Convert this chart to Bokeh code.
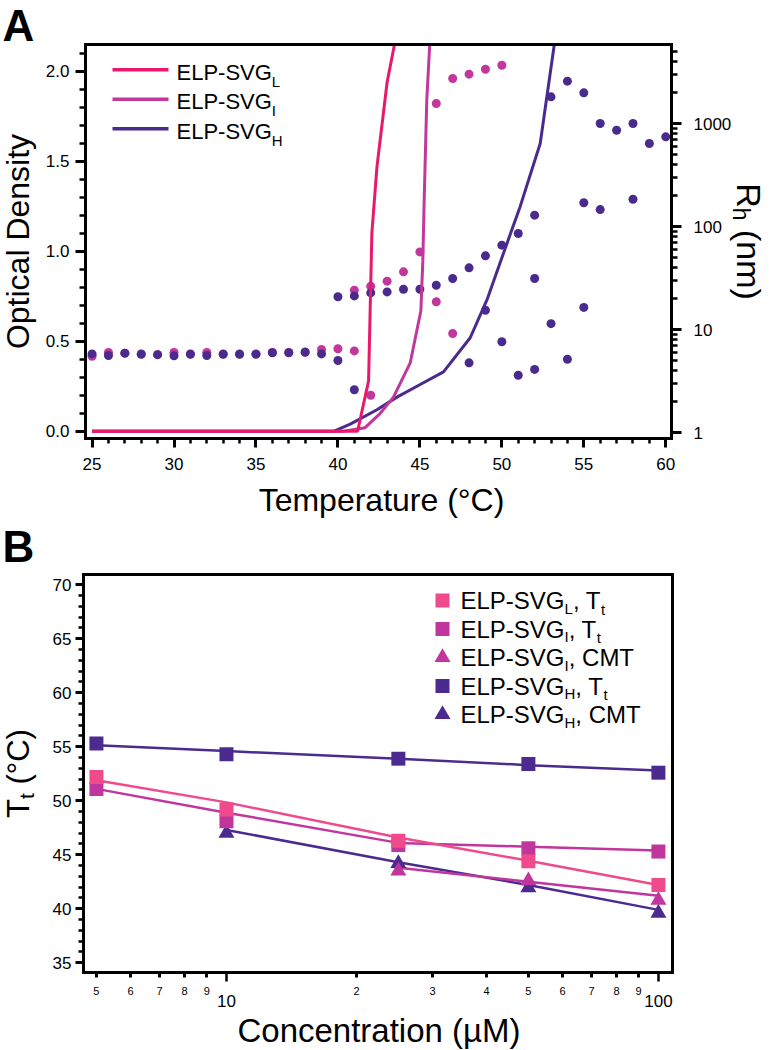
import math
from bokeh.plotting import figure
from bokeh.models import (Range1d, LinearAxis, LogAxis, FixedTicker, SingleIntervalTicker,
                          NumeralTickFormatter, CustomJSTickFormatter, Label, LogScale)
from bokeh.layouts import column
from bokeh.embed import file_html
from bokeh.resources import INLINE

FONT = "Liberation Sans"

# ---------------- Panel A data ----------------
# Optical density (turbidity) curves
od_L_T = [25, 41.2, 41.87, 42.07, 42.38, 43.0, 43.45]
od_L = [0.0, 0.0, 0.28, 1.10, 1.47, 1.94, 2.15]
od_I_T = [25, 40.34, 41.66, 42.58, 43.39, 44.41, 45.06, 45.18, 45.26, 45.42, 45.6]
od_I = [0.0, 0.0, 0.02, 0.10, 0.19, 0.38, 0.67, 0.95, 1.28, 1.84, 2.15]
od_H_T = [25, 39.73, 40.75, 42.38, 43.6, 45.02, 46.44, 48.07, 49.09, 50.1, 51.12, 52.34, 53.2]
od_H = [0.0, 0.0, 0.04, 0.12, 0.19, 0.26, 0.33, 0.52, 0.73, 0.99, 1.25, 1.60, 2.15]

# Hydrodynamic radius (DLS), nm
rh_I_T = [25, 26, 27, 28, 29, 30, 31, 32, 33, 34, 35, 36, 37, 38,
          39, 40, 41, 41, 42, 42, 43, 44, 45, 46, 46, 47, 47, 48, 49, 50]
rh_I = [5.5, 6.0, 5.9, 5.8, 5.7, 6.0, 5.8, 6.0, 5.8, 5.8, 5.8, 6.0, 6.0, 6.0,
        6.4, 6.5, 6.2, 24.1, 26.3, 2.3, 29.5, 36.3, 56.7, 18.6, 1563, 9.15, 2735, 3013, 3368, 3683]
rh_H_T = [25, 26, 27, 28, 29, 30, 31, 32, 33, 34, 35, 36, 37, 38, 39,
          40, 40, 41, 41, 42, 43, 44, 45, 46, 47, 48, 48, 49, 49, 50, 50, 51, 51,
          52, 52, 52, 53, 53, 54, 54, 55, 55, 55, 56, 56, 57, 58, 58, 59, 60]
rh_H = [5.8, 5.6, 5.9, 5.75, 5.7, 5.55, 5.75, 5.6, 5.75, 5.75, 5.75, 5.95, 5.95, 6.05, 5.8,
        5.0, 20.8, 21.2, 2.6, 22.7, 23.2, 24.6, 24.6, 26.9, 31.3, 39.7, 4.75, 51.9, 15.4, 65.9, 7.6, 85.5, 3.6,
        129, 31.3, 4.1, 1815, 11.4, 2576, 5.15, 1985, 170, 16.4, 1000, 146, 861, 1000, 184, 640, 742]

legendA_names = ["L", "I", "H"]

# ---------------- Panel B data ----------------
conc = [5, 10, 25, 50, 100]
tt_L = [52.2, 49.2, 46.3, 44.4, 42.2]
fit_L = [51.9, 49.85, 46.6, 44.45, 42.2]
tt_I = [51.1, 48.1, 45.9, 45.6, 45.3]
fit_I = [51.1, 48.9, 46.1, 45.75, 45.4]
tt_H = [55.3, 54.3, 53.9, 53.4, 52.6]
fit_H = [55.15, 54.6, 53.9, 53.3, 52.8]
cmt_conc_I = [25, 50, 100]
cmt_I = [43.5, 42.6, 40.8]
cmt_fit_I = [43.8, 42.5, 41.2]
cmt_conc_H = [10, 25, 50, 100]
cmt_H = [47.0, 44.2, 41.95, 39.6]
cmt_fit_H = [47.3, 44.3, 42.2, 39.9]

rh_major = [1, 10, 100, 1000]
rh_minor = [m * d for d in (1, 10, 100) for m in range(2, 10)] + [2000, 3000, 4000, 5000]
concB_major = [5, 6, 7, 8, 9, 20, 30, 40, 50, 60, 70, 80, 90]
concB_long = [10, 100]

# ---------------- colours ----------------
A_COL = {"L": "#E8196B", "I": "#C2379C", "H": "#4B2A8E"}
B_COL = {"L": "#EF4A8C", "I": "#C0369C", "H": "#4B2B90"}

# Arial / Liberation Sans advance widths (1/1000 em)
CW = {"E": 667, "L": 556, "P": 667, "-": 333, "S": 667, "V": 667, "G": 778, ",": 278,
      " ": 278, "T": 611, "C": 722, "M": 833, "H": 722, "I": 278, "t": 278, "h": 556,
      "R": 722, "(": 333, ")": 333, "n": 556, "m": 833, "°": 400}


def tw(s, size):
    return sum(CW[c] for c in s) / 1000.0 * size


def lab(p, x, y, text, size, color="black", angle=0.0, align="left", bold=False):
    # (x, y) is the vertical middle of the text line
    p.add_layout(Label(x=x, y=y, text=text, text_font=FONT, text_font_size=f"{size}px",
                       text_color=color, angle=angle, text_align=align,
                       text_baseline="middle",
                       text_font_style="bold" if bold else "normal"))


def style_axis(ax, tick_out, minor_out, size, standoff):
    ax.axis_line_width = 3
    ax.axis_line_color = "black"
    ax.axis_line_cap = "square"
    ax.major_tick_line_width = 3
    ax.minor_tick_line_width = 2.5
    ax.major_tick_in = 0
    ax.minor_tick_in = 0
    ax.major_tick_out = tick_out
    ax.minor_tick_out = minor_out
    ax.major_label_text_font = FONT
    ax.major_label_text_font_size = f"{size}px"
    ax.major_label_text_color = "black"
    ax.major_label_standoff = standoff


def bare_axis(ax):
    ax.axis_line_width = 3
    ax.axis_line_color = "black"
    ax.axis_line_cap = "square"
    ax.major_tick_line_color = None
    ax.minor_tick_line_color = None
    ax.major_label_text_font_size = "0px"


# ================= Panel A =================
CA_W, CA_H = 769, 520                 # canvas
A_L, A_T, A_W, A_H = 85, 44, 586, 394  # plot box inside canvas
ax0, ax1 = 24.6, 60.35
ay0, ay1 = -0.04, 2.15
rh0, rh1 = 0.875, 5850
ppx_a = A_W / (ax1 - ax0)
ppy_a = A_H / (ay1 - ay0)
ppd_a = A_H / (math.log10(rh1) - math.log10(rh0))


def axp(px):
    return ax0 + px / ppx_a


def ayp(py):
    return ay1 - py / ppy_a


pA = figure(width=CA_W, height=CA_H, output_backend="svg", toolbar_location=None,
            x_range=Range1d(axp(-A_L), axp(CA_W - A_L)),
            y_range=Range1d(ayp(CA_H - A_T), ayp(-A_T)),
            x_axis_location=None, y_axis_location=None,
            min_border=0, min_border_left=0, min_border_right=0,
            min_border_top=0, min_border_bottom=0)
pA.extra_y_ranges = {"rh": Range1d(10 ** (math.log10(rh1) - (CA_H - A_T) / ppd_a),
                                   10 ** (math.log10(rh1) + A_T / ppd_a))}
pA.extra_y_scales = {"rh": LogScale()}
pA.grid.visible = False
pA.outline_line_color = None

xa = LinearAxis(fixed_location=ay0, bounds=(ax0, ax1),
                ticker=SingleIntervalTicker(interval=5, num_minor_ticks=5))
style_axis(xa, 9, 5, 17, 10)
pA.add_layout(xa, "below")
ya = LinearAxis(fixed_location=ax0, bounds=(ay0, ay1),
                ticker=SingleIntervalTicker(interval=0.5, num_minor_ticks=5),
                formatter=NumeralTickFormatter(format="0.0"))
style_axis(ya, 10, 6, 17, 6)
pA.add_layout(ya, "left")
rax = LogAxis(y_range_name="rh", fixed_location=ax1, bounds=(rh0, rh1),
              ticker=FixedTicker(ticks=rh_major, minor_ticks=rh_minor),
              formatter=NumeralTickFormatter(format="0"))
style_axis(rax, 10, 6, 17, 12)
pA.add_layout(rax, "right")
ta = LinearAxis(fixed_location=ay1, bounds=(ax0, ax1), ticker=FixedTicker(ticks=[]))
bare_axis(ta)
pA.add_layout(ta, "above")

# DLS points
pA.scatter(rh_I_T, rh_I, y_range_name="rh", marker="circle", size=9,
           fill_color=A_COL["I"], line_color=None)
pA.scatter(rh_H_T, rh_H, y_range_name="rh", marker="circle", size=9,
           fill_color=A_COL["H"], line_color=None)
# OD curves
pA.line(od_H_T, od_H, line_color=A_COL["H"], line_width=3)
pA.line(od_I_T, od_I, line_color=A_COL["I"], line_width=3)
pA.line(od_L_T, od_L, line_color=A_COL["L"], line_width=3)

# legend A
for i, nm in enumerate(legendA_names):
    ry = 25.3 + i * 29.5
    pA.line([axp(27), axp(83)], [ayp(ry), ayp(ry)], line_color=A_COL[nm], line_width=3.5)
    lab(pA, axp(91), ayp(ry + 2.4), "ELP-SVG", 22)
    lab(pA, axp(91 + tw("ELP-SVG", 22)), ayp(ry + 11.4), nm, 15)

# titles A
lab(pA, axp(A_W / 2 + 3), ayp(A_H + 61.5), "Temperature (°C)", 32, align="center")
lab(pA, axp(-68), ayp(A_H / 2), "Optical Density", 32, angle=math.pi / 2, align="center")
fs, fsub = 34, 23
tot = tw("R", fs) + tw("h", fsub) + tw(" (nm)", fs)
py0 = A_H / 2 - tot / 2
lab(pA, axp(663), ayp(py0), "R", fs, angle=-math.pi / 2)
lab(pA, axp(655), ayp(py0 + tw("R", fs)), "h", fsub, angle=-math.pi / 2)
lab(pA, axp(663), ayp(py0 + tw("R", fs) + tw("h", fsub) + tw(" ", fs)), "(nm)", fs,
    angle=-math.pi / 2)
lab(pA, axp(-A_L + 2), ayp(25 - A_T), "A", 44, bold=True)

# ================= Panel B =================
CB_W, CB_H = 769, 530
B_L, B_T, B_W, B_H = 83, 54, 589, 398
bx0, bx1 = 4.667, 107.8
by0, by1 = 34.1, 70.95
lb0, lb1 = math.log10(bx0), math.log10(bx1)
ppx_b = B_W / (lb1 - lb0)
ppy_b = B_H / (by1 - by0)


def bxp(px):
    return 10 ** (lb0 + px / ppx_b)


def byp(py):
    return by1 - py / ppy_b


pB = figure(width=CB_W, height=CB_H, output_backend="svg", toolbar_location=None,
            x_axis_type="log",
            x_range=Range1d(bxp(-B_L), bxp(CB_W - B_L)),
            y_range=Range1d(byp(CB_H - B_T), byp(-B_T)),
            x_axis_location=None, y_axis_location=None,
            min_border=0, min_border_left=0, min_border_right=0,
            min_border_top=0, min_border_bottom=0)
pB.grid.visible = False
pB.outline_line_color = None

xb = LogAxis(fixed_location=by0, bounds=(bx0, bx1),
             ticker=FixedTicker(ticks=concB_major, minor_ticks=concB_long),
             formatter=CustomJSTickFormatter(code="return (tick < 10 ? tick : tick / 10).toFixed(0);"))
style_axis(xb, 5, 9, 11, 5)
pB.add_layout(xb, "below")
xb2 = LogAxis(fixed_location=byp(B_H + 22), bounds=(bx0, bx1),
              ticker=FixedTicker(ticks=concB_long), formatter=NumeralTickFormatter(format="0"))
style_axis(xb2, 0, 0, 17, 0)
xb2.axis_line_color = None
xb2.major_tick_line_color = None
xb2.minor_tick_line_color = None
pB.add_layout(xb2, "below")
yb = LinearAxis(fixed_location=bx0, bounds=(by0, by1),
                ticker=SingleIntervalTicker(interval=5, num_minor_ticks=5),
                formatter=NumeralTickFormatter(format="0"))
style_axis(yb, 8, 5, 17, 4)
pB.add_layout(yb, "left")
tb = LogAxis(fixed_location=by1, bounds=(bx0, bx1), ticker=FixedTicker(ticks=[]))
bare_axis(tb)
pB.add_layout(tb, "above")
rb = LinearAxis(fixed_location=bx1, bounds=(by0, by1), ticker=FixedTicker(ticks=[]))
bare_axis(rb)
pB.add_layout(rb, "right")

# fit lines
pB.line(cmt_conc_H, cmt_fit_H, line_color=B_COL["H"], line_width=2.5)
pB.line(conc, fit_H, line_color=B_COL["H"], line_width=2.5)
pB.line(cmt_conc_I, cmt_fit_I, line_color=B_COL["I"], line_width=2.5)
pB.line(conc, fit_I, line_color=B_COL["I"], line_width=2.5)
pB.line(conc, fit_L, line_color=B_COL["L"], line_width=2.5)
# markers
pB.scatter(cmt_conc_H, cmt_H, marker="triangle", size=16, fill_color=B_COL["H"], line_color=None)
pB.scatter(conc, tt_H, marker="square", size=14, fill_color=B_COL["H"], line_color=None)
pB.scatter(cmt_conc_I, cmt_I, marker="triangle", size=16, fill_color=B_COL["I"], line_color=None)
pB.scatter(conc, tt_I, marker="square", size=14, fill_color=B_COL["I"], line_color=None)
pB.scatter(conc, tt_L, marker="square", size=14, fill_color=B_COL["L"], line_color=None)

# legend B
legB = [("square", "L", ", T", True), ("square", "I", ", T", True), ("triangle", "I", ", CMT", False),
        ("square", "H", ", T", True), ("triangle", "H", ", CMT", False)]
for i, (mk, nm, rest, sub_t) in enumerate(legB):
    ry = 26 + i * 28.5
    pB.scatter([bxp(359)], [byp(ry)], marker=mk, size=16 if mk == "triangle" else 14,
               fill_color=B_COL[nm], line_color=None)
    x0 = 377
    lab(pB, bxp(x0), byp(ry), "ELP-SVG", 24)
    x1 = x0 + tw("ELP-SVG", 24)
    lab(pB, bxp(x1), byp(ry + 7.5), nm, 15)
    x2 = x1 + tw(nm, 15)
    lab(pB, bxp(x2), byp(ry), rest, 24)
    if sub_t:
        lab(pB, bxp(x2 + tw(rest, 24)), byp(ry + 8.5), "t", 15)

# titles B
lab(pB, bxp(B_W / 2 + 1), byp(B_H + 57.5), "Concentration (µM)", 33, align="center")
fs, fsub = 31, 21
tot = tw("T", fs) + tw("t", fsub) + tw(" (°C)", fs)
pyb = B_H / 2 + tot / 2
lab(pB, bxp(-65), byp(pyb), "T", fs, angle=math.pi / 2)
lab(pB, bxp(-57), byp(pyb - tw("T", fs)), "t", fsub, angle=math.pi / 2)
lab(pB, bxp(-65), byp(pyb - tw("T", fs) - tw("t", fsub) - tw(" ", fs)), "(°C)", fs,
    angle=math.pi / 2)
lab(pB, bxp(-B_L + 2), byp(26 - B_T), "B", 44, bold=True)

layout = column(pA, pB, spacing=0)
open("out.html", "w").write(file_html(layout, INLINE))
